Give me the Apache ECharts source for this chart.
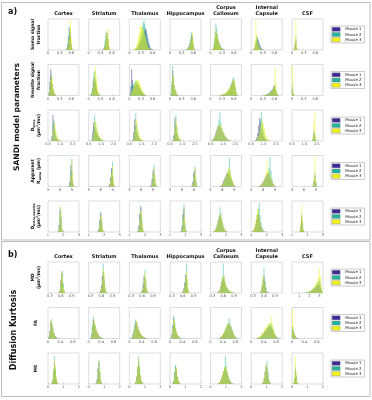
<!DOCTYPE html>
<html>
<head>
<meta charset="utf-8">
<script src="https://cdn.jsdelivr.net/npm/echarts@6/dist/echarts.min.js"></script>
<style>
  html, body { margin: 0; padding: 0; background: #fff; }
  #chart { width: 372px; height: 400px; }
</style>
</head>
<body>
<div id="chart"></div>
<script>
const regions = ['Cortex', 'Striatum', 'Thalamus', 'Hippocampus', 'Corpus\nCallosum', 'Internal\nCapsule', 'CSF'];
const mice = ['Mouse 1', 'Mouse 2', 'Mouse 3'];
const mouseColors = ['#3e2a96', '#26b59c', '#f5f514'];

// soma signal fraction
const somaBin = 0.02;
const somaStart = [0.46, 0.36, 0.10, 0.40, 0.04, 0.04, 0.04];
const somaM1 = [
  [0,2,8,20,45,70,55,20,5,0],
  [0,2,6,15,30,45,55,35,12,3],
  [0,0,1,2,3,5,8,12,16,22,28,35,42,50,58,65,70,62,50,38,25,15,8,4,2,1,0],
  [0,1,2,4,8,14,22,35,50,40,18,5],
  [0,2,8,20,40,55,50,40,30,22,15,10,7,5,3,2,1,0],
  [0,1,4,10,20,30,38,32,24,16,10,6,3,1],
  [0,2,15,30,5,0]
];
const somaM2 = [
  [2,6,18,40,75,60,30,10,2,0],
  [1,4,12,28,50,60,40,20,6,1],
  [0,1,2,4,6,10,15,22,30,40,50,62,75,88,95,85,70,55,40,28,18,10,5,2,1,0,0],
  [0,1,3,6,10,18,30,45,58,45,20,6],
  [1,4,12,30,60,85,70,50,35,25,18,12,8,5,3,2,1,0],
  [0,2,6,15,30,45,40,30,20,12,7,4,2,1],
  [0,3,20,40,8,1]
];
const somaM3 = [
  [0,1,5,15,35,65,95,40,10,2],
  [0,2,5,12,30,50,60,70,30,8],
  [1,2,4,8,12,20,30,45,60,72,80,78,70,65,60,50,40,30,20,12,7,4,2,1,0,0,0],
  [0,0,1,3,6,12,20,32,45,55,30,8],
  [0,3,10,25,50,65,55,45,32,22,15,10,6,4,2,1,1,0],
  [0,2,10,30,95,50,30,20,12,7,4,2,1,0],
  [0,5,40,98,20,2]
];

// neurite signal fraction
const neuriteBin = 0.02;
const neuriteStart = [0.01, 0.04, 0.02, 0.01, 0.22, 0.30, 0.01];
const neuriteM1 = [
  [0,10,45,85,60,35,20,10,5,2,1,0],
  [0,2,8,20,40,60,55,40,25,15,8,4,2,0],
  [5,30,85,50,30,28,30,32,35,36,34,30,26,22,18,14,10,7,4,2,1,0],
  [0,5,35,80,50,30,18,10,5,2,1,0],
  [0,1,1,2,2,3,4,5,6,8,10,12,15,18,22,28,34,40,45,50,40,25,10,3],
  [0,1,1,2,3,4,5,6,8,10,12,15,18,22,28,32,25,15,6,2,0],
  [20,5,1]
];
const neuriteM2 = [
  [0,6,30,60,70,40,22,12,6,3,1,0],
  [0,3,10,25,50,75,80,50,30,15,8,4,2,1],
  [2,10,30,40,35,38,42,45,48,46,42,36,30,24,18,13,9,6,3,2,1,0],
  [0,8,45,95,60,35,20,12,6,3,1,0],
  [0,0,1,1,2,3,3,4,6,8,10,13,16,20,25,32,38,45,55,58,45,28,12,4],
  [0,0,1,1,2,3,4,5,7,9,11,14,17,21,26,35,30,18,8,3,1],
  [35,8,2]
];
const neuriteM3 = [
  [0,4,22,50,65,55,30,15,8,4,2,1],
  [0,1,5,15,30,55,75,95,60,35,18,8,3,1],
  [1,4,10,18,25,30,36,42,46,50,50,48,44,38,30,22,15,10,6,3,1,0],
  [0,4,30,70,55,35,22,12,6,3,1,0],
  [1,1,2,2,3,4,5,6,8,10,12,15,18,22,26,30,35,42,48,52,48,32,15,5],
  [1,1,2,2,3,3,4,5,6,8,10,12,15,20,25,30,88,40,12,3,1],
  [97,15,3]
];

// D intra
const dinBin = 0.08;
const dinStart = [0.74, 0.74, 0.78, 0.74, 0.62, 0.86, 2.10];
const dinM1 = [
  [2,15,85,60,30,15,8,4,2,1],
  [5,30,60,45,35,25,18,12,8,5,3,2,1,0],
  [5,30,70,50,30,18,10,6,3,2,1,0],
  [3,20,75,50,25,12,6,3,1,0],
  [2,5,10,18,28,38,45,50,48,42,35,28,22,16,12,8,5,3,2,1],
  [3,10,25,50,75,60,40,25,15,8,5,3,2,1,0,0],
  [0,5,25,15,3,0]
];
const dinM2 = [
  [1,10,55,70,40,20,10,5,2,1],
  [2,15,45,85,60,40,28,18,12,8,5,3,1,0],
  [2,15,50,90,55,32,18,10,5,3,1,0],
  [2,15,60,85,45,22,10,5,2,1],
  [1,3,8,15,25,35,50,70,95,60,40,30,22,15,10,7,4,2,1,0],
  [1,4,12,25,45,70,95,60,35,20,10,5,3,1,1,0],
  [0,8,35,25,5,1]
];
const dinM3 = [
  [0,5,35,60,55,35,20,10,5,2],
  [1,8,30,60,65,50,35,25,16,10,6,3,2,1],
  [1,8,35,65,70,45,28,16,9,5,2,1],
  [1,10,45,70,55,30,15,7,3,1],
  [1,4,9,16,26,36,45,52,55,50,42,34,26,18,12,8,5,3,2,1],
  [1,3,8,18,32,48,60,70,55,40,25,14,7,3,1,0],
  [2,15,60,95,20,3]
];

// apparent R soma
const rsomaBin = 0.25;
const rsomaStart = [8.25, 8.0, 8.25, 8.5, 5.5, 5.0, 8.25];
const rsomaM1 = [
  [2,15,70,50,10,1],
  [2,8,30,60,35,8,1],
  [1,6,25,55,40,10,2],
  [3,15,45,55,15,2],
  [2,5,10,18,25,32,40,45,42,38,30,22,15,8,4,1],
  [1,3,6,10,15,20,28,35,40,42,38,30,22,15,8,3,1],
  [2,15,35,10,1]
];
const rsomaM2 = [
  [1,10,50,90,20,2],
  [1,5,25,50,80,20,3],
  [1,5,22,45,70,25,4],
  [2,12,40,65,25,4],
  [1,3,6,12,20,28,35,45,55,92,50,30,18,10,4,1],
  [0,2,4,8,12,18,25,32,40,48,60,95,50,25,10,4,1],
  [3,20,45,15,2]
];
const rsomaM3 = [
  [0,5,35,80,45,5],
  [1,4,20,45,65,30,5],
  [0,3,15,40,60,35,8],
  [1,8,30,60,40,8],
  [1,4,8,14,22,30,38,48,58,62,50,35,22,12,5,2],
  [1,3,5,9,14,22,32,45,85,55,45,38,28,18,9,4,1],
  [5,30,95,25,3]
];

// D extra-neurite
const dexBin = 0.06;
const dexStart = [1.66, 1.6, 1.56, 1.72, 1.2, 1.1, 1.5];
const dexM1 = [
  [2,20,70,45,8,1],
  [2,10,40,60,30,6,1],
  [3,20,60,80,40,10,2],
  [3,20,60,75,20,3],
  [1,3,8,15,25,38,50,55,45,32,20,12,6,3,1],
  [2,6,14,25,40,55,60,45,30,18,10,5,2,1],
  [2,15,50,30,6,1]
];
const dexM2 = [
  [3,25,80,55,10,1],
  [1,8,35,65,40,10,1],
  [2,15,55,85,50,15,3],
  [2,15,55,90,30,5],
  [1,2,6,12,22,35,50,80,60,40,25,14,7,3,1],
  [1,4,10,20,35,55,75,95,55,30,15,7,3,1],
  [3,20,60,35,8,1]
];
const dexM3 = [
  [1,15,60,85,20,2],
  [1,6,28,55,50,15,2],
  [1,10,40,70,65,25,5],
  [1,10,40,70,45,8],
  [1,3,7,14,24,36,48,60,55,42,28,16,8,4,1],
  [2,8,18,35,55,75,70,50,32,18,9,4,2,1],
  [5,30,85,45,10,2]
];

// MD
const mdBin = [0.025, 0.025, 0.025, 0.025, 0.025, 0.025, 0.1];
const mdStart = [0.55, 0.55, 0.58, 0.58, 0.45, 0.5, 1.6];
const mdM1 = [
  [2,10,40,65,35,10,2,0],
  [2,8,25,55,70,40,12,3,1],
  [2,10,30,55,45,20,6,2,0],
  [1,5,15,35,60,45,15,4,1],
  [2,5,10,20,35,45,50,40,30,22,16,12,8,6,4,3,2,1,1],
  [2,8,25,45,55,35,15,5,2,1],
  [1,1,2,3,4,5,7,9,12,15,18,22,25,28,25,18,8,2]
];
const mdM2 = [
  [1,6,30,60,72,30,8,1],
  [1,6,20,50,95,55,18,5,1],
  [1,6,22,50,75,40,12,3,1],
  [1,4,12,30,55,95,35,8,2],
  [1,3,8,15,30,50,95,55,35,25,18,12,8,6,4,3,2,1,1],
  [1,5,18,40,82,45,20,6,2,1],
  [1,2,3,4,5,7,9,12,15,18,22,28,32,38,45,35,15,4]
];
const mdM3 = [
  [1,8,35,70,55,20,5,1],
  [1,5,18,45,80,65,25,6,1],
  [1,5,18,42,65,50,18,5,1],
  [1,3,10,25,50,70,45,12,3],
  [1,4,9,18,32,48,55,50,38,28,20,14,10,7,5,4,3,2,1],
  [2,10,30,55,50,30,12,4,1,0],
  [1,2,3,4,6,8,10,14,18,22,28,34,40,50,80,55,25,5]
];

// FA
const faBin = 0.03;
const faStart = [0.03, 0.06, 0.06, 0.03, 0.27, 0.18, 0.015];
const faM1 = [
  [5,25,55,50,35,20,12,7,4,2,1,0],
  [2,10,35,60,55,42,30,22,15,10,6,4,2,1,0],
  [1,4,12,25,40,55,50,40,30,22,16,12,8,6,4,3,2,1],
  [2,12,40,65,50,32,20,12,7,4,2,1],
  [1,2,4,7,11,16,22,28,34,40,44,45,42,36,28,20,13,8,4,2,1],
  [1,2,3,5,7,10,13,16,20,24,28,32,35,38,40,38,34,28,22,15,10,6,3,2,1],
  [30,25,15,8,4,2,1,0]
];
const faM2 = [
  [3,20,50,62,40,25,15,8,5,3,1,1],
  [3,15,45,70,52,38,26,18,12,8,5,3,2,1,0],
  [1,5,15,30,48,62,52,38,28,20,14,10,7,5,3,2,1,1],
  [3,15,45,75,55,35,22,14,8,5,2,1],
  [1,2,3,6,10,15,21,28,36,45,52,65,50,40,30,22,14,8,4,2,1],
  [1,2,3,4,6,9,12,16,20,25,30,35,40,45,48,50,45,38,28,18,10,6,3,1,1],
  [40,30,18,10,5,3,1,1]
];
const faM3 = [
  [4,22,60,55,38,22,13,7,4,2,1,0],
  [1,8,30,55,62,48,35,25,16,10,6,4,2,1,1],
  [1,3,10,22,38,50,58,45,34,25,18,13,9,6,4,3,2,1],
  [2,10,35,60,58,38,24,15,9,5,3,1],
  [1,2,4,8,12,18,24,30,38,46,50,48,44,38,30,22,15,9,5,2,1],
  [2,3,5,7,10,14,18,22,27,32,36,40,44,46,48,50,72,45,32,20,12,6,3,1,1],
  [95,40,20,10,5,2,1,0]
];

// MK
const mkBin = 0.06;
const mkStart = [0.24, 0.48, 0.36, 0.18, 0.48, 0.72, 0.1];
const mkM1 = [
  [2,10,40,70,45,15,4,1],
  [3,15,50,70,35,10,2],
  [2,8,25,55,75,50,25,10,4,1],
  [2,10,35,55,45,22,10,4,1],
  [1,3,6,12,20,30,40,48,52,45,35,25,16,10,5,2,1],
  [2,8,20,40,60,50,30,12,4,1],
  [2,15,45,25,5,1]
];
const mkM2 = [
  [3,15,50,90,55,20,5,1],
  [2,12,45,78,40,12,3],
  [1,6,20,50,90,60,30,12,5,1],
  [3,12,40,62,50,25,12,5,1],
  [1,2,5,10,18,28,40,55,92,60,40,26,16,9,5,2,1],
  [1,6,18,38,55,75,40,15,5,1],
  [3,20,55,30,6,1]
];
const mkM3 = [
  [2,12,45,80,60,25,6,1],
  [2,10,40,72,48,15,3],
  [2,10,30,60,85,55,28,12,5,2],
  [2,8,30,50,55,30,14,6,2],
  [1,3,7,13,22,32,42,52,58,55,42,30,18,10,5,2,1],
  [2,10,25,45,65,55,32,14,5,1],
  [5,30,90,40,8,2]
];

// axis ranges and tick labels
const fracTicks = [0, 0.3, 0.6];
const dinTicks = [0.5, 1.5, 2.5];
const rsomaTicks = [3, 6, 9];
const dexTicks = [1, 2, 3];
const mdTicks = [0.3, 0.6, 0.9];
const mdCsfTicks = [1, 2, 3];
const faTicks = [0, 0.4, 0.8];
const mkTicks = [0, 1, 2];

const rows = [
  { label: 'Soma signal\nfraction', start: somaStart, bin: somaBin, m: [somaM1, somaM2, somaM3], range: [0, 0.8], ticks: fracTicks },
  { label: 'Neurite signal\nfraction', start: neuriteStart, bin: neuriteBin, m: [neuriteM1, neuriteM2, neuriteM3], range: [0, 0.8], ticks: fracTicks },
  { label: 'D{s|intra}\n(µm{p|2}/ms)', start: dinStart, bin: dinBin, m: [dinM1, dinM2, dinM3], range: [0.5, 3.0], ticks: dinTicks },
  { label: 'Apparent\nR{s|soma} (µm)', start: rsomaStart, bin: rsomaBin, m: [rsomaM1, rsomaM2, rsomaM3], range: [3, 10.8], ticks: rsomaTicks },
  { label: 'D{s|extra-neurite}\n(µm{p|2}/ms)', start: dexStart, bin: dexBin, m: [dexM1, dexM2, dexM3], range: [1, 3], ticks: dexTicks },
  { label: 'MD\n(µm{p|2}/ms)', start: mdStart, bin: mdBin, m: [mdM1, mdM2, mdM3], range: [0.25, 1.1], ticks: mdTicks, csfRange: [0.28, 3.35], csfTicks: mdCsfTicks },
  { label: 'FA', start: faStart, bin: faBin, m: [faM1, faM2, faM3], range: [0, 1], ticks: faTicks },
  { label: 'MK', start: mkStart, bin: mkBin, m: [mkM1, mkM2, mkM3], range: [0, 2], ticks: mkTicks }
];

const colLeft = [48, 88.7, 129.3, 170, 210.5, 251.2, 292];
const rowTop = [19, 64.5, 110, 155.5, 201, 262, 307.5, 353];
const boxW = 31, boxH = 31;
const font = 'DejaVu Sans';

const grids = [], xAxes = [], yAxes = [], series = [], legends = [];
const graphics = [
  { type: 'rect', silent: true, shape: { x: 1.5, y: 2.5, width: 368.5, height: 237.5 }, style: { fill: 'none', stroke: '#bdbdbd', lineWidth: 1 } },
  { type: 'rect', silent: true, shape: { x: 1.5, y: 241.5, width: 368.5, height: 155 }, style: { fill: 'none', stroke: '#bdbdbd', lineWidth: 1 } }
];

function text(x, y, str, size, opts) {
  const o = opts || {};
  graphics.push({
    type: 'text', x: x, y: y, rotation: o.rotation || 0, silent: true,
    style: {
      text: str, fontSize: size, fontWeight: 'bold', fontFamily: font, fill: '#111',
      align: o.align || 'center', textAlign: o.align || 'center',
      verticalAlign: o.va || 'middle', textVerticalAlign: o.va || 'middle',
      lineHeight: o.lh || size * 1.2, rich: o.rich
    }
  });
}

const subRich = {
  s: { fontSize: 3, fontWeight: 'bold', fontFamily: font, verticalAlign: 'bottom', lineHeight: 6 },
  p: { fontSize: 3, fontWeight: 'bold', fontFamily: font, verticalAlign: 'top', lineHeight: 6 }
};

rows.forEach((row, r) => {
  const top = rowTop[r];
  text(36, top + 15.5, row.label, 4.5, { rotation: Math.PI / 2, lh: 6, rich: subRich });
  regions.forEach((region, c) => {
    const k = grids.length;
    const isCsf = c === 6 && row.csfRange;
    const range = isCsf ? row.csfRange : row.range;
    const ticks = isCsf ? row.csfTicks : row.ticks;
    const bin = Array.isArray(row.bin) ? row.bin[c] : row.bin;
    grids.push({
      left: colLeft[c], top: top, width: boxW, height: boxH,
      show: true, borderColor: '#c8c8c8', borderWidth: 0.6, backgroundColor: '#fff'
    });
    xAxes.push({
      gridIndex: k, type: 'value', min: range[0], max: range[1],
      axisLine: { show: false }, splitLine: { show: false },
      axisTick: { show: true, inside: true, length: 1.2, customValues: ticks, lineStyle: { color: '#bbb', width: 0.5 } },
      axisLabel: { customValues: ticks, fontSize: 3.6, color: '#555', margin: 1.5, fontFamily: font }
    });
    yAxes.push({ gridIndex: k, type: 'value', min: 0, max: 100, show: false });
    row.m.forEach((counts, m) => {
      series.push({
        type: 'bar', name: mice[m], xAxisIndex: k, yAxisIndex: k,
        barWidth: '100%', barGap: '-100%', silent: true,
        itemStyle: { color: mouseColors[m], opacity: 0.5 },
        data: counts[c].map((v, i) => [+(row.start[c] + i * bin).toFixed(4), v])
      });
    });
  });
  legends.push({
    data: mice, orient: 'vertical', left: 331, top: top + 7,
    itemWidth: 8, itemHeight: 4, itemGap: 0.6, icon: 'rect', selectedMode: false,
    padding: [1, 3, 1, 1], borderColor: '#aaa', borderWidth: 0.6, backgroundColor: '#fff',
    itemStyle: { opacity: 1, borderColor: '#666', borderWidth: 0.3 },
    textStyle: { fontSize: 3.9, lineHeight: 4.6, color: '#222', fontFamily: font }
  });
});

// column titles
[rowTop[0], rowTop[5]].forEach(t => {
  regions.forEach((region, c) => {
    text(colLeft[c] + boxW / 2, t - 2, region, 5, { va: 'bottom', lh: 6 });
  });
});

text(8, 12, 'a)', 8, { align: 'left' });
text(8, 255, 'b)', 8, { align: 'left' });
text(17, 117, 'SANDI model parameters', 7.6, { rotation: Math.PI / 2 });
text(14, 330, 'Diffusion Kurtosis', 8, { rotation: Math.PI / 2 });

const myChart = echarts.init(document.getElementById('chart'));
myChart.setOption({
  animation: false,
  backgroundColor: '#fff',
  grid: grids,
  xAxis: xAxes,
  yAxis: yAxes,
  legend: legends,
  graphic: graphics,
  series: series
});
</script>
</body>
</html>
